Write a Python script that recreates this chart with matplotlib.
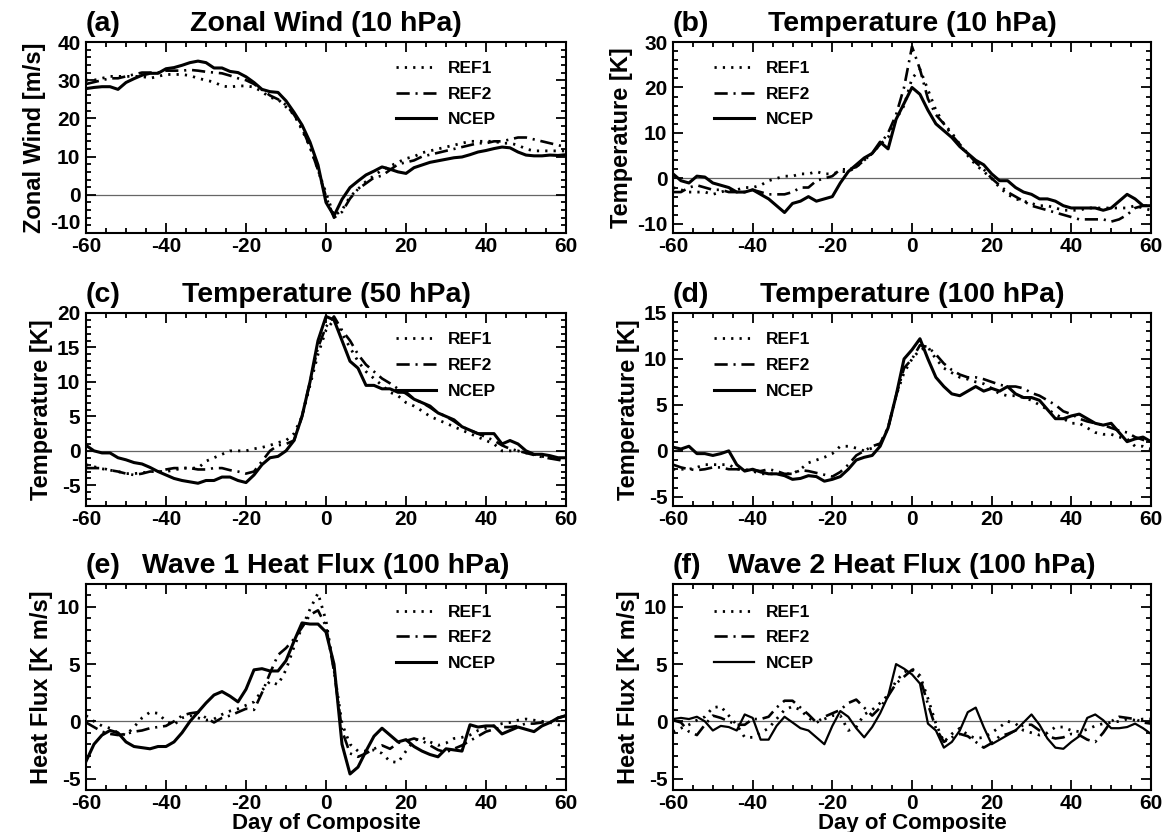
import numpy as np
import matplotlib
matplotlib.use('Agg')
import matplotlib.pyplot as plt
from matplotlib.ticker import MultipleLocator

# day of composite (every 2nd day)
days = np.arange(-60, 61, 2)

# (a) zonal wind at 10 hPa [m/s]
u10_ref1 = [30.0, 30.0, 30.5, 31.0, 31.0, 31.0, 31.0, 31.0, 30.5, 31.0,
            31.5, 31.5, 31.5, 31.2, 30.5, 30.0, 29.5, 28.5, 28.2, 28.5,
            28.5, 28.2, 27.0, 25.5, 25.0, 23.0, 21.0, 17.0, 12.5, 6.5,
            0.5, -5.5, -4.0, -0.5, 1.5, 3.5, 5.0, 6.5, 7.5, 8.5,
            9.5, 10.0, 11.0, 11.5, 12.0, 12.5, 13.0, 13.5, 14.0, 14.0,
            14.0, 14.0, 13.5, 13.5, 13.0, 12.0, 11.5, 11.5, 11.5, 11.5,
            11.5]
u10_ref2 = [29.0, 29.5, 30.0, 30.5, 30.5, 31.0, 31.5, 32.0, 32.0, 32.0,
            32.5, 32.5, 32.5, 32.7, 32.5, 32.2, 32.0, 31.8, 31.2, 30.5,
            30.0, 29.0, 27.5, 26.0, 25.0, 23.5, 21.0, 17.5, 12.5, 6.5,
            -0.5, -6.0, -4.5, -1.0, 1.5, 3.0, 4.5, 5.0, 6.5, 8.0,
            8.5, 9.0, 10.0, 10.5, 11.0, 11.5, 12.0, 12.5, 13.0, 13.5,
            13.5, 14.0, 14.0, 14.5, 15.0, 15.0, 14.5, 14.0, 13.5, 13.0,
            12.5]
u10_ncep = [27.8, 28.1, 28.3, 28.3, 27.6, 29.4, 30.4, 31.3, 31.8, 31.8,
            33.0, 33.3, 33.9, 34.6, 35.0, 34.6, 33.2, 33.2, 32.3, 32.0,
            30.9, 29.4, 27.6, 27.0, 26.8, 24.6, 21.6, 18.3, 13.8, 7.8,
            -2.0, -5.5, -1.2, 1.9, 3.6, 5.2, 6.2, 7.3, 6.7, 6.0,
            5.6, 7.1, 7.8, 8.5, 8.9, 9.3, 9.7, 9.9, 10.5, 11.2,
            11.6, 12.1, 12.5, 12.3, 11.2, 10.4, 10.2, 10.2, 10.4, 10.3,
            10.5]

# (b) temperature at 10 hPa [K]
t10_ref1 = [-2.0, -2.5, -3.0, -3.0, -3.0, -3.5, -3.0, -2.5, -2.5, -2.0,
            -2.0, -1.5, -0.5, 0.0, 0.5, 0.5, 1.0, 1.0, 1.5, 1.0,
            1.0, 1.5, 1.5, 2.5, 4.0, 5.5, 7.5, 9.0, 13.0, 16.0,
            22.0, 24.0, 19.5, 15.0, 12.0, 10.0, 7.5, 5.0, 3.0, 1.5,
            0.0, -2.0, -3.5, -4.5, -5.0, -5.5, -6.0, -6.0, -6.5, -7.0,
            -7.0, -7.0, -6.5, -6.5, -6.5, -6.5, -6.5, -6.5, -6.0, -6.5,
            -7.0]
t10_ref2 = [-3.0, -3.0, -2.0, -1.5, -2.0, -2.5, -2.5, -3.0, -3.0, -3.0,
            -2.5, -3.0, -3.5, -3.5, -3.5, -3.0, -2.0, -2.0, -0.5, 0.0,
            0.5, 2.0, 2.0, 2.5, 4.0, 5.5, 7.5, 10.0, 14.0, 20.0,
            29.0, 24.0, 17.5, 14.0, 12.0, 9.5, 7.5, 5.5, 3.5, 2.0,
            0.0, -1.5, -3.0, -4.0, -5.0, -6.0, -6.5, -7.0, -7.5, -8.0,
            -8.5, -9.0, -9.0, -9.0, -9.0, -9.5, -9.0, -8.0, -6.5, -6.0,
            -6.0]
t10_ncep = [1.0, -0.5, -1.0, 0.5, 0.3, -1.0, -1.5, -2.0, -3.0, -3.0,
            -2.5, -3.5, -4.5, -6.0, -7.5, -5.5, -5.0, -4.0, -5.0, -4.5,
            -4.0, -1.0, 1.5, 3.0, 4.5, 5.5, 8.0, 6.5, 13.0, 16.5,
            20.0, 18.5, 15.0, 12.0, 10.5, 9.0, 7.0, 5.5, 4.0, 3.0,
            1.0, -0.5, -0.5, -2.0, -3.0, -3.5, -4.5, -4.5, -5.0, -6.0,
            -6.5, -6.5, -6.5, -6.5, -7.0, -6.5, -5.0, -3.5, -4.5, -6.0,
            -6.0]

# (c) temperature at 50 hPa [K]
t50_ref1 = [-2.0, -2.3, -2.6, -2.8, -3.0, -3.3, -3.3, -3.2, -3.0, -3.0,
            -3.0, -2.8, -2.5, -2.5, -2.5, -1.5, -1.0, -0.5, 0.0, 0.0,
            0.0, 0.3, 0.5, 0.8, 1.2, 1.5, 2.5, 5.0, 9.5, 14.0,
            17.5, 19.0, 17.0, 15.0, 13.0, 11.5, 10.5, 9.5, 8.5, 8.0,
            7.0, 6.5, 5.8, 5.0, 4.5, 4.0, 3.5, 3.0, 2.5, 2.0,
            1.5, 1.0, 0.0, 0.0, 0.0, -0.3, -0.5, -0.8, -1.0, -1.2,
            -1.3]
t50_ref2 = [-2.5, -2.5, -2.5, -2.8, -3.0, -3.3, -3.5, -3.3, -3.0, -3.0,
            -2.7, -2.5, -2.5, -2.5, -2.7, -2.7, -2.5, -2.5, -2.8, -3.0,
            -3.3, -3.0, -1.5, 0.0, 0.8, 1.0, 1.5, 5.0, 10.0, 15.0,
            18.0, 19.5, 17.5, 16.0, 14.0, 12.5, 11.5, 10.5, 9.8, 9.0,
            8.3, 7.5, 7.0, 6.3, 5.5, 5.0, 4.3, 3.5, 3.0, 2.5,
            2.0, 1.5, 0.8, 0.3, 0.0, -0.3, -0.6, -0.9, -1.1, -1.3,
            -1.5]
t50_ncep = [0.8, 0.0, -0.3, -0.3, -1.0, -1.3, -1.7, -1.9, -2.4, -3.0,
            -3.5, -4.0, -4.3, -4.5, -4.7, -4.3, -4.3, -3.8, -3.8, -4.3,
            -4.6, -3.5, -2.0, -1.0, -0.8, 0.0, 1.5, 5.0, 10.0, 16.0,
            19.5, 19.0, 16.0, 13.0, 12.0, 9.5, 9.5, 9.0, 9.0, 8.5,
            8.5, 7.5, 7.0, 6.5, 5.5, 5.0, 4.5, 3.5, 3.0, 2.5,
            2.5, 2.5, 1.0, 1.5, 1.0, 0.0, -0.5, -0.5, -0.7, -1.0,
            -1.0]

# (d) temperature at 100 hPa [K]
t100_ref1 = [-2.0, -2.0, -2.0, -1.8, -1.5, -1.5, -1.5, -1.5, -2.0, -2.0,
             -2.2, -2.5, -2.5, -2.5, -2.5, -2.5, -2.0, -1.3, -1.0, -0.7,
             -0.3, 0.5, 0.5, 0.3, 0.0, 0.3, 0.8, 2.5, 6.0, 8.5,
             10.0, 11.0, 11.3, 10.0, 9.0, 8.5, 8.0, 7.8, 7.5, 7.3,
             6.8, 6.2, 6.0, 6.0, 5.8, 5.5, 5.0, 4.5, 4.0, 3.5,
             3.0, 3.0, 2.5, 2.0, 1.8, 1.8, 1.5, 1.3, 0.5, 0.5,
             0.2]
t100_ref2 = [-1.5, -1.8, -2.0, -2.1, -2.0, -1.8, -1.8, -2.0, -2.0, -2.1,
             -2.1, -2.2, -2.0, -2.2, -2.5, -2.5, -2.1, -2.2, -2.4, -2.6,
             -2.8, -2.3, -1.5, -0.5, 0.0, 0.5, 0.8, 2.5, 6.0, 9.0,
             10.0, 11.5, 11.3, 10.5, 9.5, 8.8, 8.3, 8.0, 8.0, 7.8,
             7.5, 7.2, 7.0, 7.0, 6.8, 6.3, 6.0, 5.5, 5.0, 4.3,
             4.0, 3.5, 3.2, 3.0, 2.8, 2.5, 2.2, 2.0, 1.5, 1.2,
             1.0]
t100_ncep = [0.4, 0.2, 0.5, -0.3, -0.3, -0.5, -0.3, 0.0, -1.5, -2.2,
             -2.0, -2.3, -2.5, -2.5, -2.7, -3.1, -3.0, -2.7, -2.8, -3.3,
             -3.1, -2.8, -2.0, -1.0, -0.7, -0.5, 0.5, 2.5, 6.0, 10.0,
             11.0, 12.2, 10.0, 8.0, 7.0, 6.2, 6.0, 6.5, 7.0, 6.5,
             6.8, 6.5, 7.0, 6.2, 5.8, 5.8, 5.5, 4.5, 3.5, 3.5,
             3.8, 4.0, 3.5, 3.0, 2.8, 3.0, 2.0, 1.0, 1.3, 1.5,
             1.0]

# (e) wave 1 heat flux at 100 hPa [K m/s]
hf1_ref1 = [0.5, 0.0, -0.4, -0.6, -1.0, -1.2, -0.5, 0.3, 0.8, 0.7,
            0.0, -0.3, 0.3, 0.5, 0.3, 0.1, 0.2, 0.6, 0.9, 1.1,
            1.4, 1.7, 2.7, 3.5, 3.2, 4.5, 6.5, 8.2, 9.8, 11.2,
            8.8, 4.5, -0.2, -2.0, -2.6, -2.6, -2.5, -2.8, -3.5, -3.6,
            -2.6, -1.7, -1.4, -1.8, -2.1, -1.9, -1.5, -1.4, -1.2, -0.8,
            -0.6, -0.4, -0.2, -0.1, 0.1, 0.2, 0.1, 0.0, -0.1, -0.3,
            -0.4]
hf1_ref2 = [-0.1, -0.5, -0.9, -1.1, -1.2, -1.1, -0.9, -0.8, -0.6, -0.5,
            -0.4, 0.0, 0.5, 0.7, 0.8, 0.3, -0.1, 0.3, 0.5, 0.8,
            1.1, 1.0, 2.5, 4.2, 5.8, 6.4, 7.2, 8.2, 9.3, 9.7,
            8.3, 4.4, -0.8, -2.8, -3.1, -2.8, -2.4, -2.1, -2.4, -1.9,
            -1.7, -1.5, -1.7, -2.1, -2.5, -2.7, -2.4, -2.1, -1.7, -1.3,
            -0.9, -0.7, -0.5, -0.5, -0.4, -0.2, -0.2, -0.1, -0.1, 0.3,
            0.5]
hf1_ncep = [-3.5, -2.0, -1.2, -0.8, -1.0, -1.8, -2.2, -2.3, -2.4, -2.2,
            -2.2, -1.8, -1.0, 0.0, 0.8, 1.6, 2.3, 2.6, 2.2, 1.7,
            2.8, 4.5, 4.6, 4.4, 4.4, 5.3, 7.0, 8.6, 8.5, 8.5,
            7.8, 5.0, -2.0, -4.6, -4.0, -2.6, -1.3, -0.6, -1.2, -1.8,
            -1.6, -2.2, -2.6, -2.9, -3.1, -2.4, -2.5, -2.6, -0.3, -0.5,
            -0.4, -0.4, -1.1, -0.8, -0.5, -0.7, -0.9, -0.4, -0.1, 0.3,
            0.5]

# (f) wave 2 heat flux at 100 hPa [K m/s]
hf2_ref1 = [-0.9, -0.6, -0.3, 0.1, 0.4, 1.2, 1.3, 0.5, -0.3, -1.4,
            -1.4, -1.0, -0.6, 0.2, 1.0, 1.3, 1.0, 0.3, -0.1, 0.2,
            0.5, 0.5, -0.8, -0.5, 0.6, 1.0, 1.6, 2.3, 3.5, 4.3,
            4.6, 4.0, 2.0, -0.2, -1.8, -1.1, -0.6, -1.2, -1.5, -1.4,
            -1.0, -0.5, 0.0, -0.2, -0.8, -1.0, -1.2, -1.0, -0.5, -0.5,
            -0.8, -0.9, -0.7, -0.4, -0.2, -0.1, 0.0, 0.2, 0.1, 0.2,
            0.2]
hf2_ref2 = [0.1, -0.1, -0.9, -1.2, -0.3, 0.5, 0.3, 0.0, -0.3, -0.3,
            0.2, 0.2, 0.4, 1.2, 1.8, 1.8, 1.2, 0.6, -0.1, 0.4,
            0.7, 1.0, 1.6, 1.9, 1.2, 0.5, 1.2, 2.2, 3.3, 3.9,
            4.5, 3.8, 1.5, -0.6, -1.8, -1.4, -1.1, -1.3, -1.8, -2.3,
            -1.9, -1.3, -1.1, -0.8, -0.3, -0.3, -0.8, -1.3, -1.5, -1.4,
            -1.1, -1.2, -1.6, -1.8, -1.0, 0.0, 0.4, 0.3, 0.2, -0.1,
            -0.2]
hf2_ncep = [0.2, 0.3, 0.2, 0.4, 0.0, -0.8, -0.4, -0.5, -0.8, 0.6,
            0.3, -1.6, -1.6, -0.4, 0.4, -0.1, -0.6, -0.8, -1.4, -2.0,
            -0.4, 0.9, 0.4, -0.6, -1.4, -0.5, 0.7, 2.2, 5.0, 4.6,
            4.1, 3.3, -0.2, -0.8, -2.3, -1.8, -0.8, 0.8, 1.2, -0.5,
            -2.0, -1.6, -1.2, -0.8, -0.1, 0.6, -0.3, -1.5, -2.3, -2.4,
            -1.8, -1.3, 0.3, 0.6, 0.1, -0.6, -0.6, -0.5, -0.2, -0.6,
            -1.1]

plt.rcParams['font.family'] = ['Liberation Sans', 'DejaVu Sans']
plt.rcParams['font.weight'] = 'bold'
plt.rcParams['axes.labelweight'] = 'bold'
plt.rcParams['axes.titleweight'] = 'bold'
plt.rcParams['axes.unicode_minus'] = False

W, H = 1171, 832
fig = plt.figure(figsize=(W / 100, H / 100), dpi=100)


def add_panel(box, letter, title, ylabel, ylim, yticks, yminor, series,
              leg_x, ncep_lw=2.2, xlabel=None):
    x0, y0, x1, y1 = box
    ax = fig.add_axes([x0 / W, 1 - y1 / H, (x1 - x0) / W, (y1 - y0) / H])
    ref1, ref2, ncep = series
    ax.axhline(0, color='0.4', lw=0.9, zorder=1)
    ax.plot(days, ref1, color='k', lw=2.0, ls=(0, (0.8, 2.2)), label='REF1')
    ax.plot(days, ref2, color='k', lw=1.9, ls=(0, (5, 2.2, 0.8, 2.2)), label='REF2')
    ax.plot(days, ncep, color='k', lw=ncep_lw, label='NCEP')
    ax.set_xlim(-60, 60)
    ax.set_ylim(*ylim)
    ax.set_xticks([-60, -40, -20, 0, 20, 40, 60])
    ax.set_yticks(yticks)
    ax.xaxis.set_minor_locator(MultipleLocator(5))
    ax.yaxis.set_minor_locator(MultipleLocator(yminor))
    ax.tick_params(which='both', direction='in', top=True, right=True,
                   labelsize=15, width=1.3)
    ax.tick_params(which='major', length=7)
    ax.tick_params(which='minor', length=3.5)
    ax.tick_params(axis='x', pad=3)
    ax.tick_params(axis='y', pad=4)
    for s in ax.spines.values():
        s.set_linewidth(1.5)
    ax.set_ylabel(ylabel, fontsize=17, labelpad=3)
    if xlabel:
        ax.set_xlabel(xlabel, fontsize=16, labelpad=0)
    ax.set_title(letter, loc='left', fontsize=20.5, pad=8)
    ax.set_title(title, loc='center', fontsize=20.5, pad=8)
    ax.legend(loc='upper left', bbox_to_anchor=(leg_x, 0.90), frameon=False,
              fontsize=12.5, handlelength=2.3, handletextpad=0.7,
              labelspacing=0.6, borderpad=0, borderaxespad=0)
    return ax


ax_a = add_panel((86, 42, 566, 233), '(a)', 'Zonal Wind (10 hPa)', 'Zonal Wind [m/s]',
                 (-10, 40), [-10, 0, 10, 20, 30, 40], 2, (u10_ref1, u10_ref2, u10_ncep), 0.646)
add_panel((673, 42, 1151, 233), '(b)', 'Temperature (10 hPa)', 'Temperature [K]',
          (-12, 30), [-10, 0, 10, 20, 30], 2, (t10_ref1, t10_ref2, t10_ncep), 0.086)
add_panel((86, 313, 566, 506), '(c)', 'Temperature (50 hPa)', 'Temperature [K]',
          (-8, 20), [-5, 0, 5, 10, 15, 20], 1, (t50_ref1, t50_ref2, t50_ncep), 0.646)
add_panel((673, 313, 1151, 506), '(d)', 'Temperature (100 hPa)', 'Temperature [K]',
          (-6, 15), [-5, 0, 5, 10, 15], 1, (t100_ref1, t100_ref2, t100_ncep), 0.086)
add_panel((86, 584, 566, 790), '(e)', 'Wave 1 Heat Flux (100 hPa)', 'Heat Flux [K m/s]',
          (-6, 12), [-5, 0, 5, 10], 1, (hf1_ref1, hf1_ref2, hf1_ncep), 0.646,
          xlabel='Day of Composite')
add_panel((673, 584, 1151, 790), '(f)', 'Wave 2 Heat Flux (100 hPa)', 'Heat Flux [K m/s]',
          (-6, 12), [-5, 0, 5, 10], 1, (hf2_ref1, hf2_ref2, hf2_ncep), 0.086,
          ncep_lw=1.6, xlabel='Day of Composite')

# the bottom label of panel (a) sits on the frame edge: lift it like the original
fig.canvas.draw()
for lab in ax_a.get_yticklabels():
    if lab.get_text() == '-10':
        lab.set_verticalalignment('bottom')

fig.savefig('out.png', dpi=100)
